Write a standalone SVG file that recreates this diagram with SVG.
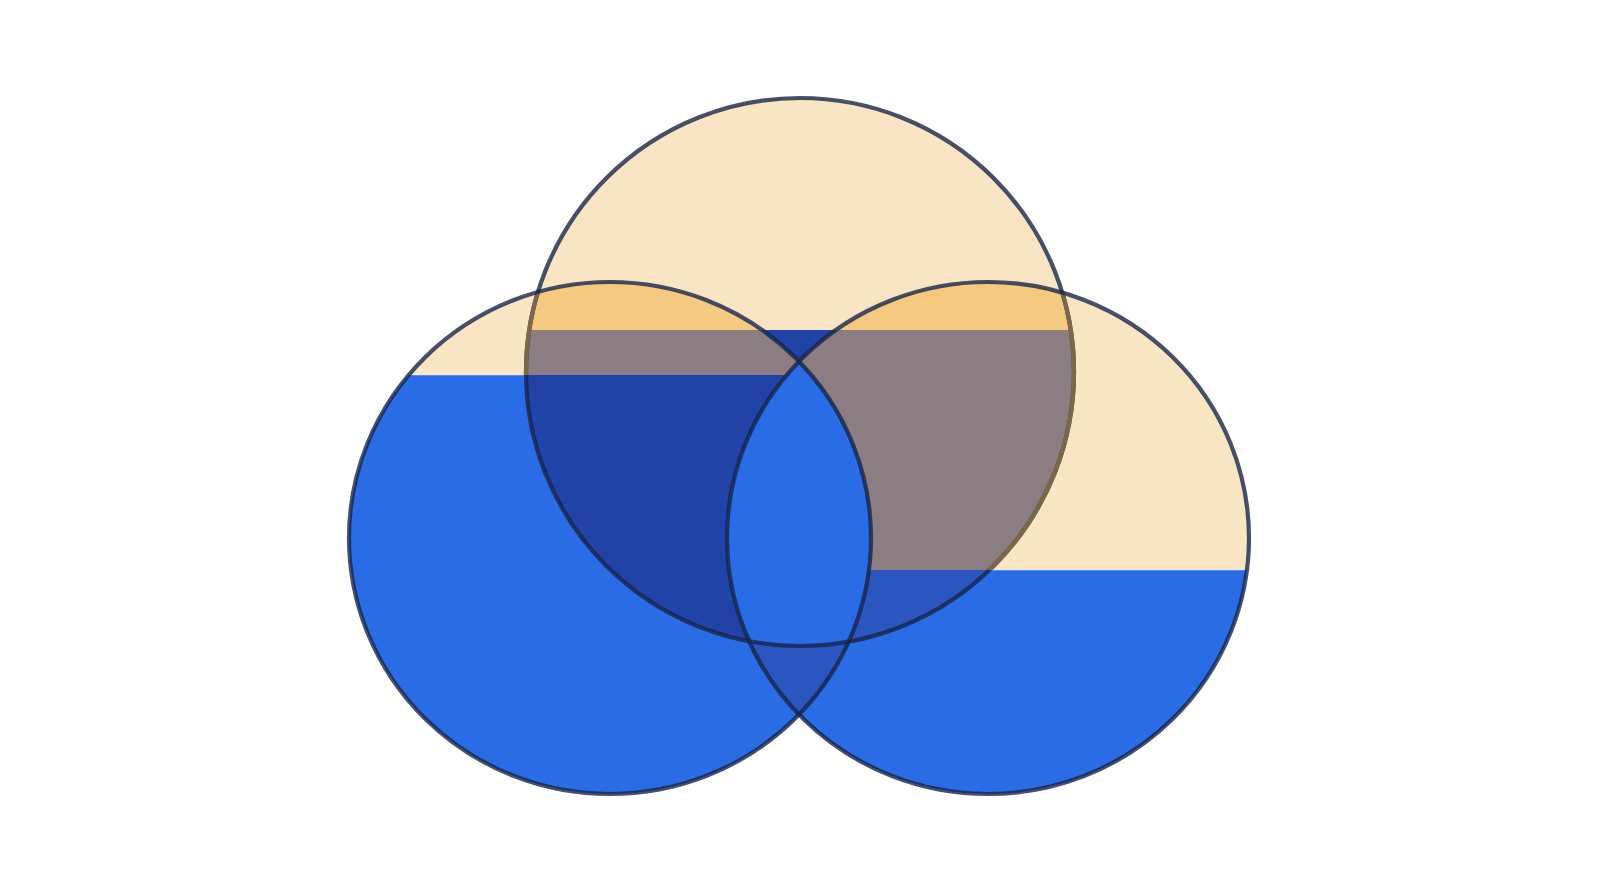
<svg xmlns="http://www.w3.org/2000/svg" width="1600" height="894" viewBox="0 0 1600 894">
  <style>
    .cream { fill: #f9e4c3; }
    .orange { fill: #f5ca80; }
    .bright { fill: #2a6ce6; }
    .navy { fill: #2142a6; }
    .gray { fill: #8b7d82; }
    .medium { fill: #2b56c0; }
    .edge { fill: none; stroke: #16264a; stroke-opacity: 0.8; stroke-width: 4.2; }
    .edge-under { fill: none; stroke: #7b684b; stroke-width: 4.2; }
    .level { stroke: #e6eef9; stroke-width: 1.2; opacity: 0.5; }
  </style>
  <defs>
    <clipPath id="cA"><ellipse cx="610" cy="538" rx="261" ry="256"/></clipPath>
    <clipPath id="cB"><circle cx="800" cy="372" r="274"/></clipPath>
    <clipPath id="cC"><ellipse cx="988" cy="538" rx="261" ry="256"/></clipPath>
    <clipPath id="aboveA"><rect x="0" y="0" width="1600" height="375"/></clipPath>
    <clipPath id="aboveC"><rect x="0" y="0" width="1600" height="570"/></clipPath>
  </defs>
  <rect width="1600" height="894" fill="#ffffff"/>

  <g id="circle-left-fill" clip-path="url(#cA)">
    <rect class="cream" x="340" y="270" width="540" height="535"/>
    <rect class="bright" x="340" y="375" width="540" height="430"/>
    <line class="level" x1="340" y1="375" x2="880" y2="375"/>
  </g>
  <g id="circle-right-fill" clip-path="url(#cC)">
    <rect class="cream" x="720" y="270" width="540" height="535"/>
    <rect class="bright" x="720" y="570" width="540" height="235"/>
    <line class="level" x1="720" y1="570" x2="1260" y2="570"/>
  </g>
  <g id="circle-top-fill" clip-path="url(#cB)">
    <rect class="cream" x="520" y="90" width="560" height="565"/>
    <rect class="navy" x="520" y="330" width="560" height="325"/>
  </g>

  <g id="overlap-left-top" clip-path="url(#cA)">
    <g clip-path="url(#cB)">
      <rect class="orange" x="340" y="90" width="740" height="240"/>
      <rect class="gray" x="340" y="330" width="740" height="45"/>
      <rect class="navy" x="340" y="375" width="740" height="430"/>
    </g>
  </g>
  <g id="overlap-top-right" clip-path="url(#cC)">
    <g clip-path="url(#cB)">
      <rect class="orange" x="520" y="90" width="740" height="240"/>
      <rect class="gray" x="520" y="330" width="740" height="240"/>
      <rect class="medium" x="520" y="570" width="740" height="235"/>
    </g>
  </g>
  <g id="overlap-left-right" clip-path="url(#cA)">
    <g clip-path="url(#cC)">
      <rect class="medium" x="700" y="340" width="200" height="400"/>
    </g>
  </g>
  <g id="overlap-all" clip-path="url(#cA)">
    <g clip-path="url(#cC)">
      <g clip-path="url(#cB)">
        <rect class="bright" x="700" y="340" width="200" height="400"/>
      </g>
    </g>
  </g>

  <g id="outlines">
    <circle class="edge" cx="800" cy="372" r="274"/>
    <g clip-path="url(#cA)"><g clip-path="url(#aboveA)"><circle class="edge-under" cx="800" cy="372" r="274"/></g></g>
    <g clip-path="url(#cC)"><g clip-path="url(#aboveC)"><circle class="edge-under" cx="800" cy="372" r="274"/></g></g>
    <ellipse class="edge" cx="610" cy="538" rx="261" ry="256"/>
    <ellipse class="edge" cx="988" cy="538" rx="261" ry="256"/>
  </g>
</svg>
